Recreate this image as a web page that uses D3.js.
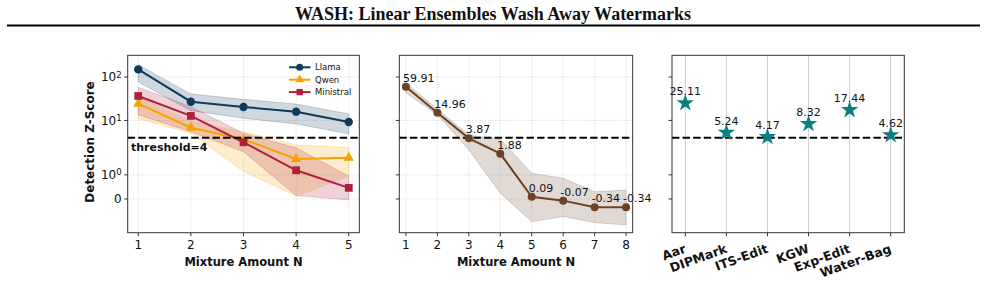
<!DOCTYPE html>
<html>
<head>
<meta charset="utf-8">
<title>WASH</title>
<script src="https://d3js.org/d3.v7.min.js"></script>
<style>
  body { margin: 0; background: #fff; }
  svg { display: block; }
  text { font-family: "DejaVu Sans", sans-serif; fill: #111; }
</style>
</head>
<body>
<svg id="chart" width="985" height="307"></svg>
<script>
// ---- data ----
const titleText = "WASH: Linear Ensembles Wash Away Watermarks";
const threshold = 4;

// panel 1: three models vs mixture amount
const mix1 = [1, 2, 3, 4, 5];
const llama    = [150, 27, 20.4, 15.9, 9.2];
const llamaLo  = [77, 16.8, 11.2, 8.3, 4.9];
const llamaHi  = [193, 40.7, 30.7, 23.9, 14.1];
const qwen     = [24.3, 6.8, 3.67, 1.66, 1.71];
const qwenLo   = [11, 5.06, 1.13, 0.12, 0.95];
const qwenHi   = [35, 9.5, 5.5, 2.72, 2.4];
const minis    = [36.6, 12.7, 3.13, 1.19, 0.46];
const minisLo  = [13.4, 5.5, 1.96, 0.14, -0.04];
const minisHi  = [58, 20.7, 5.06, 2.33, 0.95];

// panel 2: single mixture curve
const mix2   = [1, 2, 3, 4, 5, 6, 7, 8];
const mixZ   = [59.91, 14.96, 3.87, 1.88, 0.09, -0.07, -0.34, -0.34];
const mixLo  = [43.6, 13.4, 2.1, 0.24, -0.94, -0.73, -0.98, -1.08];
const mixHi  = [74, 18.1, 4.6, 3.67, 1.07, 0.86, 0.30, 0.37];

// panel 3: other methods
const methods = ["Aar", "DIPMark", "ITS-Edit", "KGW", "Exp-Edit", "Water-Bag"];
const methodZ = [25.11, 5.24, 4.17, 8.32, 17.44, 4.62];

const yTicks = [0, 1, 10, 100];
const yMin = -1.4, yMax = 317;

// ---- symlog (linthresh 2, linscale 1) like matplotlib ----
const LT = 2, SADJ = 1 / 0.9;
function symlog(v) {
  const a = Math.abs(v);
  return a <= LT ? v * SADJ : Math.sign(v) * LT * (SADJ + Math.log10(a / LT));
}

const svg = d3.select("#chart");
const plotTop = 55.3, plotBottom = 232.7;
const y = d3.scaleLinear().domain([symlog(yMin), symlog(yMax)]).range([plotBottom, plotTop]);
const yv = v => y(symlog(v));

// title
svg.append("text").attr("x", 493).attr("y", 19.5).attr("text-anchor", "middle")
  .style("font-family", "'Liberation Serif', serif").style("font-weight", "bold")
  .style("font-size", "18px").text(titleText);
svg.append("line").attr("x1", 7).attr("x2", 980).attr("y1", 25.5).attr("y2", 25.5)
  .attr("stroke", "#000").attr("stroke-width", 2);

function yAxis(g, x0, labels) {
  yTicks.forEach(t => {
    g.append("line").attr("x1", x0 - 3.5).attr("x2", x0).attr("y1", yv(t)).attr("y2", yv(t))
      .attr("stroke", "#333");
    if (!labels) return;
    const tx = g.append("text").attr("x", x0 - 6).attr("y", yv(t)).attr("dy", "0.36em")
      .attr("text-anchor", "end").style("font-size", "12px");
    if (t === 0) tx.text("0");
    else {
      tx.append("tspan").text("10");
      tx.append("tspan").attr("dy", "-0.45em").style("font-size", "8.5px").text(Math.log10(t));
    }
  });
}

function frame(g, x0, x1) {
  g.append("rect").attr("x", x0).attr("y", plotTop).attr("width", x1 - x0).attr("height", plotBottom - plotTop)
    .attr("fill", "none").attr("stroke", "#333").attr("stroke-width", 1);
}

function threshLine(g, x0, x1) {
  g.append("line").attr("x1", x0).attr("x2", x1).attr("y1", yv(threshold)).attr("y2", yv(threshold))
    .attr("stroke", "#000").attr("stroke-width", 2).attr("stroke-dasharray", "7.4,3.2");
}

function xTicksNum(g, x, ticks) {
  ticks.forEach(t => {
    g.append("line").attr("x1", x(t)).attr("x2", x(t)).attr("y1", plotBottom).attr("y2", plotBottom + 3.5)
      .attr("stroke", "#333");
    g.append("text").attr("x", x(t)).attr("y", plotBottom + 16).attr("text-anchor", "middle")
      .style("font-size", "12px").text(t);
  });
}

function dottedGrid(g, x, xt, x0, x1) {
  xt.forEach(t => g.append("line").attr("x1", x(t)).attr("x2", x(t)).attr("y1", plotTop).attr("y2", plotBottom)
    .attr("stroke", "#cfcfcf").attr("stroke-width", 0.8).attr("stroke-dasharray", "1,1.6"));
  yTicks.forEach(t => g.append("line").attr("x1", x0).attr("x2", x1).attr("y1", yv(t)).attr("y2", yv(t))
    .attr("stroke", "#cfcfcf").attr("stroke-width", 0.8).attr("stroke-dasharray", "1,1.6"));
}

function band(g, x, xs, lo, hi, color) {
  const area = d3.area().x((d, i) => x(xs[i])).y0(d => yv(d[0])).y1(d => yv(d[1]));
  g.append("path").datum(lo.map((l, i) => [l, hi[i]])).attr("d", area)
    .attr("fill", color).attr("fill-opacity", 0.2).attr("stroke", color).attr("stroke-opacity", 0.2);
}

function series(g, x, xs, vals, color, sym, size) {
  const line = d3.line().x((d, i) => x(xs[i])).y(d => yv(d));
  g.append("path").datum(vals).attr("d", line).attr("fill", "none")
    .attr("stroke", color).attr("stroke-width", 2);
  g.selectAll(null).data(vals).join("path")
    .attr("transform", (d, i) => `translate(${x(xs[i])},${yv(d)})`)
    .attr("d", d3.symbol().type(sym).size(size)).attr("fill", color);
}

const cLlama = "#0b3b5c", cQwen = "#f5a300", cMinis = "#b01f3c", cBrown = "#6b4223", cTeal = "#0b7f80";

// ---- panel 1 ----
{
  const x0 = 127.7, x1 = 359.3;
  const g = svg.append("g");
  const x = d3.scaleLinear().domain([0.8, 5.2]).range([x0, x1]);
  dottedGrid(g, x, mix1, x0, x1);
  band(g, x, mix1, llamaLo, llamaHi, cLlama);
  band(g, x, mix1, qwenLo, qwenHi, cQwen);
  band(g, x, mix1, minisLo, minisHi, cMinis);
  series(g, x, mix1, llama, cLlama, d3.symbolCircle, 55);
  series(g, x, mix1, qwen, cQwen, d3.symbolTriangle, 45);
  series(g, x, mix1, minis, cMinis, d3.symbolSquare, 60);
  threshLine(g, x0, x1);
  g.append("text").attr("x", 131).attr("y", 150.5).style("font-weight", "bold")
    .style("font-size", "11px").text("threshold=" + threshold);
  frame(g, x0, x1);
  yAxis(g, x0, true);
  xTicksNum(g, x, mix1);
  g.append("text").attr("x", (x0 + x1) / 2).attr("y", 265.5).attr("text-anchor", "middle")
    .style("font-weight", "bold").style("font-size", "11.5px").text("Mixture Amount N");
  g.append("text").attr("transform", "translate(94,142) rotate(-90)").attr("text-anchor", "middle")
    .style("font-weight", "bold").style("font-size", "12px").text("Detection Z-Score");

  // legend
  const leg = [["Llama", cLlama, d3.symbolCircle, 40], ["Qwen", cQwen, d3.symbolTriangle, 35], ["Ministral", cMinis, d3.symbolSquare, 40]];
  leg.forEach((d, i) => {
    const ly = 67.3 + i * 12.4;
    g.append("line").attr("x1", 289).attr("x2", 310.5).attr("y1", ly).attr("y2", ly)
      .attr("stroke", d[1]).attr("stroke-width", 2);
    g.append("path").attr("transform", `translate(299.7,${ly})`).attr("d", d3.symbol().type(d[2]).size(d[3]))
      .attr("fill", d[1]);
    g.append("text").attr("x", 315).attr("y", ly).attr("dy", "0.35em")
      .style("font-size", "8.5px").text(d[0]);
  });
}

// ---- panel 2 ----
{
  const x0 = 399.3, x1 = 632.7;
  const g = svg.append("g");
  const x = d3.scaleLinear().domain([0.79, 8.21]).range([x0, x1]);
  dottedGrid(g, x, mix2, x0, x1);
  band(g, x, mix2, mixLo, mixHi, cBrown);
  threshLine(g, x0, x1);
  series(g, x, mix2, mixZ, cBrown, d3.symbolCircle, 50);
  g.selectAll(null).data(mixZ).join("text")
    .attr("x", (d, i) => x(mix2[i]) - 3).attr("y", d => yv(d) - 5)
    .style("font-size", "11px").text(d => d.toFixed(2));
  frame(g, x0, x1);
  yAxis(g, x0, false);
  xTicksNum(g, x, mix2);
  g.append("text").attr("x", (x0 + x1) / 2).attr("y", 265.5).attr("text-anchor", "middle")
    .style("font-weight", "bold").style("font-size", "11.5px").text("Mixture Amount N");
}

// ---- panel 3 ----
{
  const x0 = 672, x1 = 904.3;
  const g = svg.append("g");
  const x = d3.scalePoint().domain(methods).range([685.3, 890.7]);
  methods.forEach(m => g.append("line").attr("x1", x(m)).attr("x2", x(m)).attr("y1", plotTop).attr("y2", plotBottom)
    .attr("stroke", "#cccccc").attr("stroke-width", 1));
  threshLine(g, x0, x1);
  g.selectAll(null).data(methodZ).join("path")
    .attr("transform", (d, i) => `translate(${x(methods[i])},${yv(d)})`)
    .attr("d", d3.symbol().type(d3.symbolStar).size(95)).attr("fill", cTeal);
  g.selectAll(null).data(methodZ).join("text")
    .attr("x", (d, i) => x(methods[i])).attr("y", d => yv(d) - 8).attr("text-anchor", "middle")
    .style("font-size", "11px").text(d => d.toFixed(2));
  frame(g, x0, x1);
  yAxis(g, x0, false);
  methods.forEach(m => {
    g.append("line").attr("x1", x(m)).attr("x2", x(m)).attr("y1", plotBottom).attr("y2", plotBottom + 3.5)
      .attr("stroke", "#333");
    g.append("text").attr("transform", `translate(${x(m) - 2},${plotBottom + 10}) rotate(-20)`)
      .attr("dy", "0.8em").attr("text-anchor", "end").style("font-weight", "bold")
      .style("font-size", "12.5px").text(m);
  });
}
</script>
</body>
</html>
